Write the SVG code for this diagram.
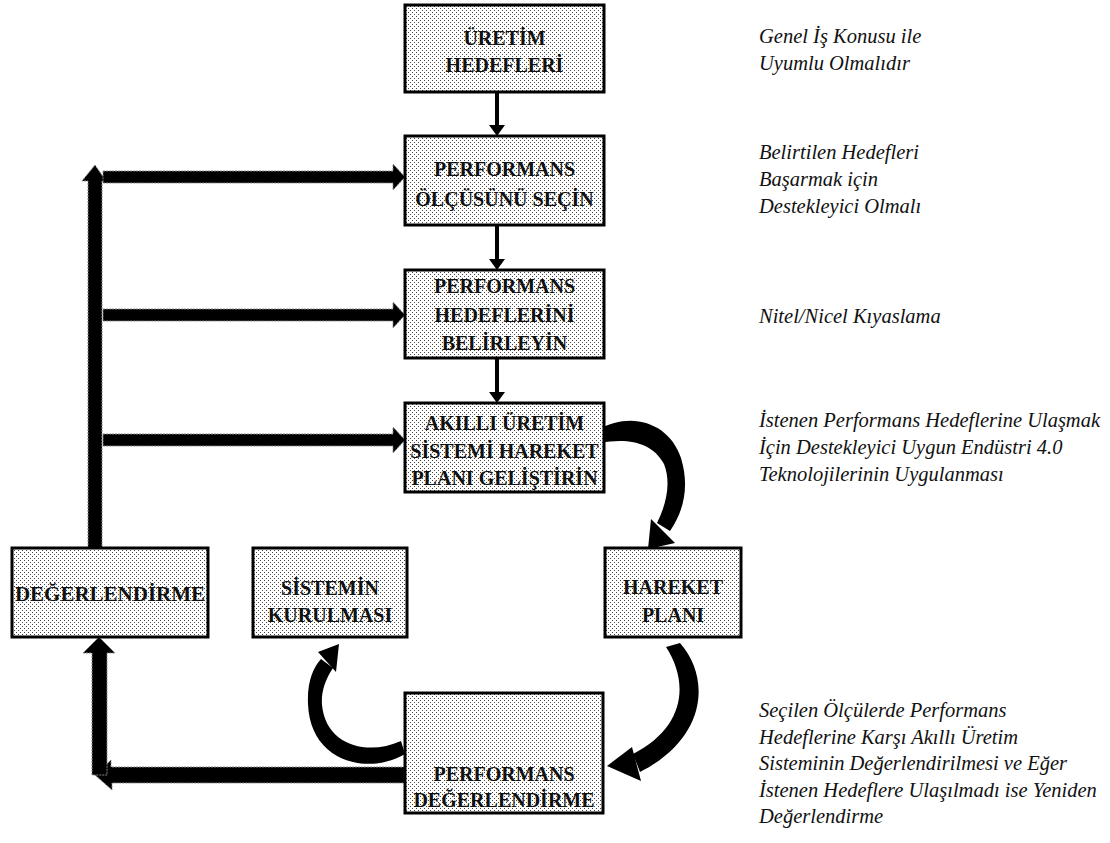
<svg xmlns="http://www.w3.org/2000/svg" width="1110" height="843" viewBox="0 0 1110 843">
  <defs>
    <!-- light dotted fill used by every box -->
    <pattern id="dots" width="4" height="4" patternUnits="userSpaceOnUse">
      <rect width="4" height="4" fill="#ffffff"/>
      <rect x="0" y="0" width="1" height="1" fill="#444"/>
      <rect x="2" y="2" width="1" height="1" fill="#444"/>
    </pattern>
    <style>
      .box { fill: url(#dots); stroke: #000; stroke-width: 3; }
      text { font-family: 'Liberation Serif', 'DejaVu Serif', 'Times New Roman', serif; }
      .lbl { font-weight: bold; font-size: 20px; fill: #111; text-anchor: middle; }
      .note { font-style: italic; font-size: 20.5px; fill: #111; }
      .thin { fill: #000; }
      .fat { fill: #000; stroke: #888; stroke-width: 1; stroke-dasharray: 2 1; }
      .curve { fill: #000; }
    </style>
  </defs>

  <rect width="1110" height="843" fill="#ffffff"/>

  <!-- connectors -->
  <g id="connectors">
    <!-- thin arrows down the main column -->
    <path class="thin" d="M495,92 H499 V125 H505 L497,136 L489,125 H495 Z"/>
    <path class="thin" d="M495,225 H499 V259 H505 L497,270 L489,259 H495 Z"/>
    <path class="thin" d="M495,358 H499 V392 H505 L497,403 L489,392 H495 Z"/>

    <!-- feedback bus: up from the evaluation box -->
    <path class="fat" d="M88,548 V181 H82 L95,165 L106,181 H102 V548 Z"/>
    <!-- feedback bus: branches into the column -->
    <path class="fat" d="M103,171 H393 V164 L405,177 L393,190 V183 H103 Z"/>
    <path class="fat" d="M103,309 H393 V302 L405,315 L393,328 V321 H103 Z"/>
    <path class="fat" d="M103,434 H393 V427 L405,440 L393,453 V446 H103 Z"/>

    <!-- bottom return: left along the bottom, then up -->
    <path class="fat" d="M405,767 H111 V760 L95,775 L112,790 V783 H405 Z"/>
    <path class="fat" d="M92,775 V653 H83 L99,637 L115,653 H107 V775 Z"/>

    <!-- curved arrow: action plan box to HAREKET PLANI -->
    <path class="curve" d="M598,430 C632,410 670,424 681,458 C690,488 683,512 670,531 L657,523 C667,503 671,482 664,464 C652,442 628,438 600,443 Z"/>
    <polygon class="curve" points="651,519 675,543 648,549"/>

    <!-- curved arrow: HAREKET PLANI to performance evaluation -->
    <path class="curve" d="M680,643 C711,678 707,738 640,772 L633,754 C684,728 690,684 666,647 Z"/>
    <polygon class="curve" points="632,747 641,781 607,766"/>

    <!-- curved arrow: performance evaluation to SİSTEMİN KURULMASI -->
    <path class="curve" d="M405,754 C368,776 310,762 308,704 C307,682 313,668 321,659 L333,668 C325,680 321,692 322,705 C326,746 368,756 401,741 Z"/>
    <polygon class="curve" points="318,652 336,672 339,644"/>
  </g>

  <!-- main column -->
  <g id="uretim-hedefleri">
    <rect class="box" x="405" y="5" width="199" height="87"/>
    <text class="lbl" x="504.5" y="45">ÜRETİM</text>
    <text class="lbl" x="504.5" y="72">HEDEFLERİ</text>
  </g>

  <g id="performans-olcusu">
    <rect class="box" x="405" y="136" width="199" height="89"/>
    <text class="lbl" x="504.5" y="176">PERFORMANS</text>
    <text class="lbl" x="504.5" y="206">ÖLÇÜSÜNÜ SEÇİN</text>
  </g>

  <g id="performans-hedefleri">
    <rect class="box" x="405" y="270" width="199" height="88"/>
    <text class="lbl" x="504.5" y="293">PERFORMANS</text>
    <text class="lbl" x="504.5" y="322">HEDEFLERİNİ</text>
    <text class="lbl" x="504.5" y="350">BELİRLEYİN</text>
  </g>

  <g id="hareket-plani-gelistir">
    <rect class="box" x="405" y="403" width="199" height="89"/>
    <text class="lbl" x="504.5" y="430">AKILLI ÜRETİM</text>
    <text class="lbl" x="504.5" y="458">SİSTEMİ HAREKET</text>
    <text class="lbl" x="504.5" y="485">PLANI GELİŞTİRİN</text>
  </g>

  <!-- lower row -->
  <g id="degerlendirme">
    <rect class="box" x="12" y="548" width="196" height="89"/>
    <text class="lbl" x="110" y="601" style="font-size:21px">DEĞERLENDİRME</text>
  </g>

  <g id="sistemin-kurulmasi">
    <rect class="box" x="253" y="548" width="154" height="89"/>
    <text class="lbl" x="330" y="595">SİSTEMİN</text>
    <text class="lbl" x="330" y="622">KURULMASI</text>
  </g>

  <g id="hareket-plani">
    <rect class="box" x="605" y="548" width="136" height="89"/>
    <text class="lbl" x="673" y="594">HAREKET</text>
    <text class="lbl" x="673" y="622">PLANI</text>
  </g>

  <g id="performans-degerlendirme">
    <rect class="box" x="405" y="693" width="198" height="120"/>
    <text class="lbl" x="504" y="781">PERFORMANS</text>
    <text class="lbl" x="504" y="807">DEĞERLENDİRME</text>
  </g>

  <!-- side notes -->
  <g id="notes">
    <text class="note" x="759" y="43">Genel İş Konusu ile</text>
    <text class="note" x="759" y="70">Uyumlu Olmalıdır</text>

    <text class="note" x="759" y="159">Belirtilen Hedefleri</text>
    <text class="note" x="759" y="186">Başarmak için</text>
    <text class="note" x="759" y="213">Destekleyici Olmalı</text>

    <text class="note" x="759" y="323">Nitel/Nicel Kıyaslama</text>

    <text class="note" x="759" y="427">İstenen Performans Hedeflerine Ulaşmak</text>
    <text class="note" x="759" y="454">İçin Destekleyici Uygun Endüstri 4.0</text>
    <text class="note" x="759" y="481">Teknolojilerinin Uygulanması</text>

    <text class="note" x="759" y="717">Seçilen Ölçülerde Performans</text>
    <text class="note" x="759" y="744">Hedeflerine Karşı Akıllı Üretim</text>
    <text class="note" x="759" y="770">Sisteminin Değerlendirilmesi ve Eğer</text>
    <text class="note" x="759" y="797">İstenen Hedeflere Ulaşılmadı ise Yeniden</text>
    <text class="note" x="759" y="823">Değerlendirme</text>
  </g>
</svg>
